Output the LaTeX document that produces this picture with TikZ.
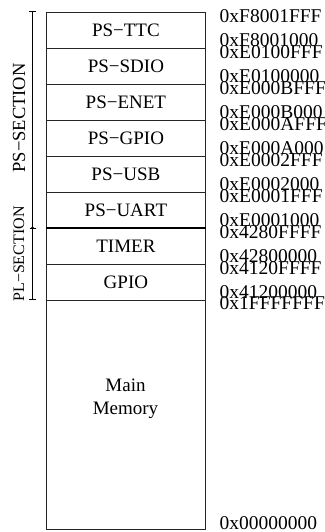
\documentclass[tikz,border=0pt]{standalone}
\usepackage{fontspec}
\setmainfont{Liberation Serif}
\begin{document}
\begin{tikzpicture}[x=1pt,y=-1pt,
  every node/.style={font=\fontsize{19}{23}\selectfont},
  region/.style={draw=black!85,line width=0.8pt,minimum width=159pt,minimum height=36pt,inner sep=0pt,anchor=north west},
  addr/.style={inner sep=0pt,anchor=base west,font=\fontsize{19.5}{23}\selectfont},
  seclabel/.style={rotate=90,inner sep=0pt},
  bar/.style={line width=1pt,black}]
\useasboundingbox (0,0) rectangle (324,532);

% peripheral regions, 36pt each, from the top of the map downwards
\foreach \i/\lab/\hi/\lo in {
  0/PS−TTC/0xF8001FFF/0xF8001000,
  1/PS−SDIO/0xE0100FFF/0xE0100000,
  2/PS−ENET/0xE000BFFF/0xE000B000,
  3/PS−GPIO/0xE000AFFF/0xE000A000,
  4/PS−USB/0xE0002FFF/0xE0002000,
  5/PS−UART/0xE0001FFF/0xE0001000,
  6/TIMER/0x4280FFFF/0x42800000,
  7/GPIO/0x4120FFFF/0x41200000}{
  \pgfmathsetmacro{\top}{12+36*\i}
  \node[region] (r\i) at (46,\top) {\lab};
  \node[addr] (hi\i) at (219.5,\top+10.5) {\hi};
  \node[addr] (lo\i) at (219.5,\top+34.5) {\lo};
}

% main memory
\node[region,minimum height=229pt] (mem) at (46,300) {};
\node[align=center,inner sep=0pt] (memlab) at (125.5,399) {Main\\Memory};
\node[addr] (himem) at (219.5,309) {0x1FFFFFFF};
\node[addr] (lomem) at (219.5,529) {0x00000000};

% boundary between PS and PL regions
\draw[line width=1.3pt] (r6.north west) -- (r6.north east);

% section brackets
\coordinate (pstop) at (32.5,12);
\coordinate (psplmid) at (32.5,228);
\coordinate (plbot) at (32.5,299);
\draw[bar] (pstop) -- (psplmid) -- (plbot);
\draw[bar] ([xshift=-3.5pt]pstop) -- ([xshift=3.5pt]pstop);
\draw[bar] ([xshift=-3.5pt]plbot) -- ([xshift=3.5pt]plbot);
\draw[bar] ([xshift=-3pt]psplmid) -- ([xshift=3pt]psplmid);
\fill (psplmid) circle (1.7pt);

\node[seclabel,font=\fontsize{18.5}{22}\selectfont] (pslab) at (19,118) {PS−SECTION};
\node[seclabel,font=\fontsize{16}{19}\selectfont] (pllab) at (19,254) {PL−SECTION};
\end{tikzpicture}
\end{document}
